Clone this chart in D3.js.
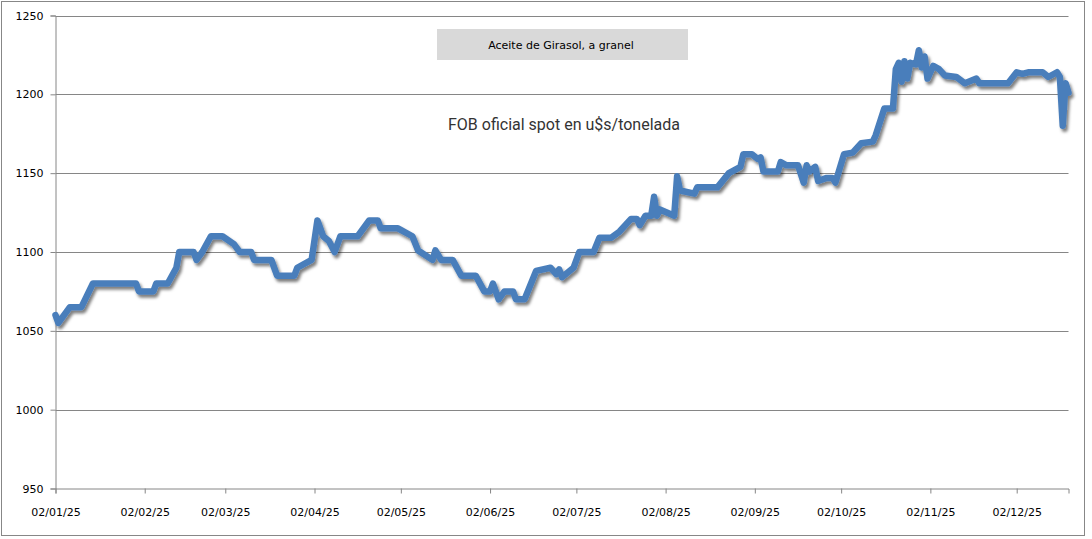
<!DOCTYPE html>
<html>
<head>
<meta charset="utf-8">
<script src="https://cdn.jsdelivr.net/npm/d3@7"></script>
<style>
  html, body { margin: 0; padding: 0; background: #fff; }
  svg { display: block; }
</style>
</head>
<body>
<svg id="chart" width="1092" height="539"></svg>
<script>
const chartTitle = "Aceite de Girasol, a granel";
const chartSubtitle = "FOB oficial spot en u$s/tonelada";

const dates = [
  "2025-01-02","2025-01-03","2025-01-07","2025-01-11","2025-01-15","2025-01-30","2025-01-31",
  "2025-02-05","2025-02-06","2025-02-10","2025-02-13","2025-02-14","2025-02-19","2025-02-20",
  "2025-02-22","2025-02-25","2025-03-01","2025-03-05","2025-03-07","2025-03-11","2025-03-12",
  "2025-03-18","2025-03-20","2025-03-26","2025-03-27","2025-04-01","2025-04-03","2025-04-05",
  "2025-04-07","2025-04-09","2025-04-11","2025-04-17","2025-04-21","2025-04-24","2025-04-25",
  "2025-05-01","2025-05-06","2025-05-08","2025-05-13","2025-05-14","2025-05-16","2025-05-20",
  "2025-05-23","2025-05-28","2025-05-31","2025-06-02","2025-06-03","2025-06-05","2025-06-07",
  "2025-06-10","2025-06-11","2025-06-14","2025-06-18","2025-06-23","2025-06-25","2025-06-26",
  "2025-06-27","2025-07-01","2025-07-03","2025-07-08","2025-07-10","2025-07-14","2025-07-17",
  "2025-07-21","2025-07-23","2025-07-24","2025-07-26","2025-07-28","2025-07-29","2025-07-30",
  "2025-07-31","2025-08-05","2025-08-06","2025-08-07","2025-08-12","2025-08-13","2025-08-20",
  "2025-08-24","2025-08-28","2025-08-29","2025-09-01","2025-09-03","2025-09-04","2025-09-05",
  "2025-09-10","2025-09-11","2025-09-13","2025-09-17","2025-09-19","2025-09-20","2025-09-21",
  "2025-09-23","2025-09-24","2025-09-27","2025-09-29","2025-09-30","2025-10-03","2025-10-06",
  "2025-10-09","2025-10-13","2025-10-14","2025-10-17","2025-10-20","2025-10-21","2025-10-22",
  "2025-10-23","2025-10-24","2025-10-25","2025-10-26","2025-10-28","2025-10-29","2025-10-30",
  "2025-10-31","2025-11-01","2025-11-03","2025-11-05","2025-11-07","2025-11-11","2025-11-14",
  "2025-11-18","2025-11-19","2025-11-29","2025-12-02","2025-12-04","2025-12-06","2025-12-11",
  "2025-12-13","2025-12-16","2025-12-17","2025-12-18","2025-12-19","2025-12-20"
];

const prices = [
  1060,1055,1065,1065,1080,1080,1075,
  1075,1080,1080,1090,1100,1100,1095,
  1100,1110,1110,1105,1100,1100,1095,
  1095,1085,1085,1090,1095,1120,1110,
  1107,1100,1110,1110,1120,1120,1115,
  1115,1110,1101,1095,1101,1095,1095,
  1085,1085,1075,1075,1080,1070,1075,
  1075,1070,1070,1088,1090,1086,1089,
  1084,1090,1100,1100,1109,1109,1113,
  1121,1121,1117,1123,1123,1135,1123,
  1127,1123,1148,1139,1137,1141,1141,
  1150,1154,1162,1162,1159,1160,1151,
  1151,1157,1155,1155,1144,1155,1151,
  1154,1145,1147,1147,1144,1162,1163,
  1169,1170,1174,1191,1191,1216,1220,
  1208,1221,1210,1220,1219,1228,1217,
  1224,1210,1218,1216,1212,1211,1207,
  1210,1207,1207,1214,1213,1214,1214,
  1211,1214,1211,1180,1207,1201
];

const yTicks = [950, 1000, 1050, 1100, 1150, 1200, 1250];
const xTickDates = [
  "2025-01-02","2025-02-02","2025-03-02","2025-04-02","2025-05-02","2025-06-02",
  "2025-07-02","2025-08-02","2025-09-02","2025-10-02","2025-11-02","2025-12-02"
];

const parse = d3.utcParse("%Y-%m-%d");
const data = dates.map((d, i) => ({ date: parse(d), value: prices[i] }));

const svg = d3.select("#chart");
const plot = { left: 55.5, right: 1068.5, top: 15.5, bottom: 488.5 };

// outer border
svg.append("rect")
  .attr("x", 1.5).attr("y", 1.5)
  .attr("width", 1083).attr("height", 534)
  .attr("fill", "#fff").attr("stroke", "#878787").attr("stroke-width", 1);

const x = d3.scaleUtc()
  .domain([parse(dates[0]), parse(dates[dates.length - 1])])
  .range([plot.left, plot.right]);

const y = d3.scaleLinear()
  .domain([950, 1250])
  .range([plot.bottom, plot.top]);

const gridColor = "#868686";

// horizontal gridlines
svg.append("g")
  .selectAll("line")
  .data(yTicks.filter(v => v !== 950))
  .join("line")
  .attr("x1", plot.left).attr("x2", plot.right)
  .attr("y1", d => Math.round(y(d)) + 0.5).attr("y2", d => Math.round(y(d)) + 0.5)
  .attr("stroke", gridColor).attr("stroke-width", 1);

// y axis
const yAxis = d3.axisLeft(y).tickValues(yTicks).tickSize(5).tickPadding(7).tickFormat(d3.format("d"));
const gy = svg.append("g").attr("transform", `translate(${plot.left},0)`).call(yAxis);
gy.select(".domain").attr("stroke", gridColor);
gy.selectAll(".tick line").attr("stroke", gridColor);
gy.selectAll(".tick text")
  .attr("fill", "#000")
  .style("font-family", "'DejaVu Sans', Verdana, sans-serif")
  .style("font-size", "11px");

// x axis
const fmt = d3.utcFormat("%d/%m/%y");
const xAxis = d3.axisBottom(x).tickValues(xTickDates.map(parse)).tickSize(5).tickPadding(15).tickFormat(fmt);
const gx = svg.append("g").attr("transform", `translate(0,${plot.bottom})`).call(xAxis);
gx.select(".domain").attr("stroke", gridColor);
gx.selectAll(".tick line").attr("stroke", gridColor);
gx.selectAll(".tick text")
  .attr("fill", "#000")
  .style("font-family", "'DejaVu Sans', Verdana, sans-serif")
  .style("font-size", "11px");

// shadow filter
const defs = svg.append("defs");
const f = defs.append("filter").attr("id", "shadow")
  .attr("x", "-5%").attr("y", "-10%").attr("width", "110%").attr("height", "130%");
f.append("feDropShadow")
  .attr("dx", 2).attr("dy", 3).attr("stdDeviation", 1.8)
  .attr("flood-color", "#000").attr("flood-opacity", 0.5);

const line = d3.line()
  .x(d => x(d.date))
  .y(d => y(d.value));

svg.append("path")
  .datum(data)
  .attr("d", line)
  .attr("fill", "none")
  .attr("stroke", "#4a7ebb")
  .attr("stroke-width", 6.5)
  .attr("stroke-linejoin", "round")
  .attr("stroke-linecap", "round")
  .attr("filter", "url(#shadow)");

// title box
svg.append("rect")
  .attr("x", 437).attr("y", 29).attr("width", 251).attr("height", 31)
  .attr("fill", "#d9d9d9");
svg.append("text")
  .attr("x", 561).attr("y", 45)
  .attr("text-anchor", "middle").attr("dominant-baseline", "central")
  .style("font-family", "'DejaVu Sans', Verdana, sans-serif")
  .style("font-size", "11px")
  .attr("fill", "#000")
  .text(chartTitle);

// subtitle
svg.append("text")
  .attr("x", 564).attr("y", 124)
  .attr("text-anchor", "middle").attr("dominant-baseline", "central")
  .style("font-family", "Roboto, 'Open Sans', sans-serif")
  .style("font-size", "16px")
  .attr("fill", "#333")
  .text(chartSubtitle);
</script>
</body>
</html>
